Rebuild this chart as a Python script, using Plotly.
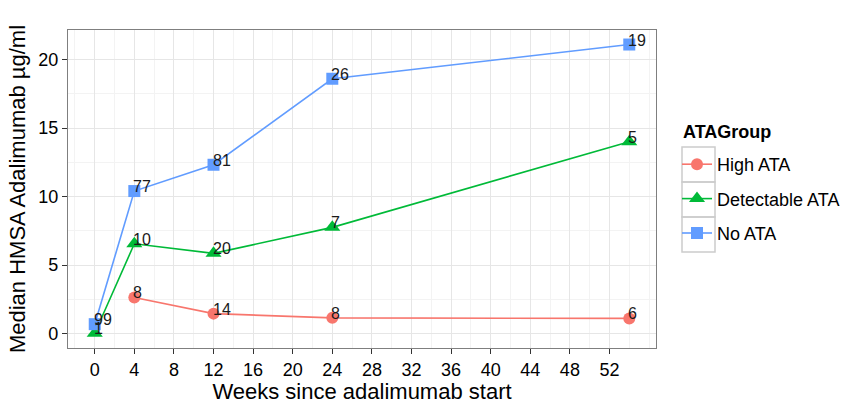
import plotly.graph_objects as go

weeks = [0, 4, 12, 24, 54]
groups = ["High ATA", "Detectable ATA", "No ATA"]
colors = ["#F8766D", "#00BA38", "#619CFF"]
symbols = ["circle", "triangle-up", "square"]

high_x = [4, 12, 24, 54]
high_y = [2.63, 1.45, 1.14, 1.10]
high_n = ["8", "14", "8", "6"]

det_x = [0, 4, 12, 24, 54]
det_y = [0.02, 6.55, 5.85, 7.75, 14.0]
det_n = ["1", "10", "20", "7", "5"]

no_x = [0, 4, 12, 24, 54]
no_y = [0.68, 10.4, 12.32, 18.6, 21.1]
no_n = ["99", "77", "81", "26", "19"]

xticks = list(range(0, 53, 4))
yticks = [0, 5, 10, 15, 20]

series = [(high_x, high_y, high_n), (det_x, det_y, det_n), (no_x, no_y, no_n)]
sizes = [12, 14, 12]

FONT = "Liberation Sans, Arial, sans-serif"
L, R, T, B = 68, 194, 30, 56
PW, PH = 850 - L - R, 404 - T - B

def px(xp):
    return (xp - L) / PW

def py(yp):
    return (404 - B - yp) / PH

fig = go.Figure()
annotations = []
for (xs, ys, ns), name, col, sym, sz in zip(series, groups, colors, symbols, sizes):
    fig.add_trace(go.Scatter(
        x=xs, y=ys, mode="lines+markers", name=name,
        line=dict(color=col, width=1.6),
        marker=dict(color=col, symbol=sym, size=sz),
        legendgroup=name,
    ))
    for x, y, n in zip(xs, ys, ns):
        annotations.append(dict(
            x=x, y=y, text=n, showarrow=False, xanchor="left", yanchor="bottom",
            xshift=-3, yshift=-6, font=dict(size=16, color="#1a1a1a", family=FONT)))

annotations.append(dict(
    xref="paper", yref="paper", x=px(681), y=py(120), xanchor="left", yanchor="top",
    text="<b>ATAGroup</b>", showarrow=False, font=dict(size=18, family=FONT, color="black")))

shapes = []
box_top = [147, 182, 217]
for t in box_top:
    shapes.append(dict(type="rect", xref="paper", yref="paper",
                       x0=px(682), x1=px(715),
                       y0=py(t), y1=py(t + 35),
                       line=dict(color="#cccccc", width=1.5), fillcolor="rgba(0,0,0,0)"))

fig.update_layout(
    width=850, height=404,
    margin=dict(l=L, r=R, t=T, b=B, autoexpand=False),
    paper_bgcolor="white", plot_bgcolor="white",
    font=dict(family=FONT, color="black"),
    annotations=annotations,
    shapes=shapes,
    legend=dict(
        font=dict(size=18, family=FONT),
        x=px(677), y=py(146), xanchor="left", yanchor="top",
        tracegroupgap=8,
        bgcolor="rgba(0,0,0,0)",
    ),
    xaxis=dict(
        range=[-2.7, 56.7], tickvals=xticks, ticktext=[str(v) for v in xticks],
        showgrid=True, gridcolor="#e6e6e6", gridwidth=1.2,
        minor=dict(dtick=2, tick0=0, showgrid=True, gridcolor="#f3f3f3", gridwidth=1),
        ticks="outside", ticklen=5, tickcolor="#333333", tickwidth=1.2,
        showline=True, linecolor="#7f7f7f", linewidth=1.2, mirror=True,
        zeroline=False, automargin=False,
        tickfont=dict(size=18, color="black"),
        title=dict(text="Weeks since adalimumab start", font=dict(size=22), standoff=2),
    ),
    yaxis=dict(
        range=[-1.06, 22.16], tickvals=yticks, ticktext=[str(v) for v in yticks],
        showgrid=True, gridcolor="#e6e6e6", gridwidth=1.2,
        minor=dict(dtick=2.5, tick0=0, showgrid=True, gridcolor="#f3f3f3", gridwidth=1),
        ticks="outside", ticklen=5, tickcolor="#333333", tickwidth=1.2,
        showline=True, linecolor="#7f7f7f", linewidth=1.2, mirror=True,
        zeroline=False, automargin=False,
        tickfont=dict(size=18, color="black"),
        title=dict(text="Median HMSA Adalimumab µg/ml", font=dict(size=22), standoff=6),
    ),
)

fig.write_html("out.html", config={"displayModeBar": False},
               post_script="document.body.style.margin='0';document.body.style.padding='0';")
